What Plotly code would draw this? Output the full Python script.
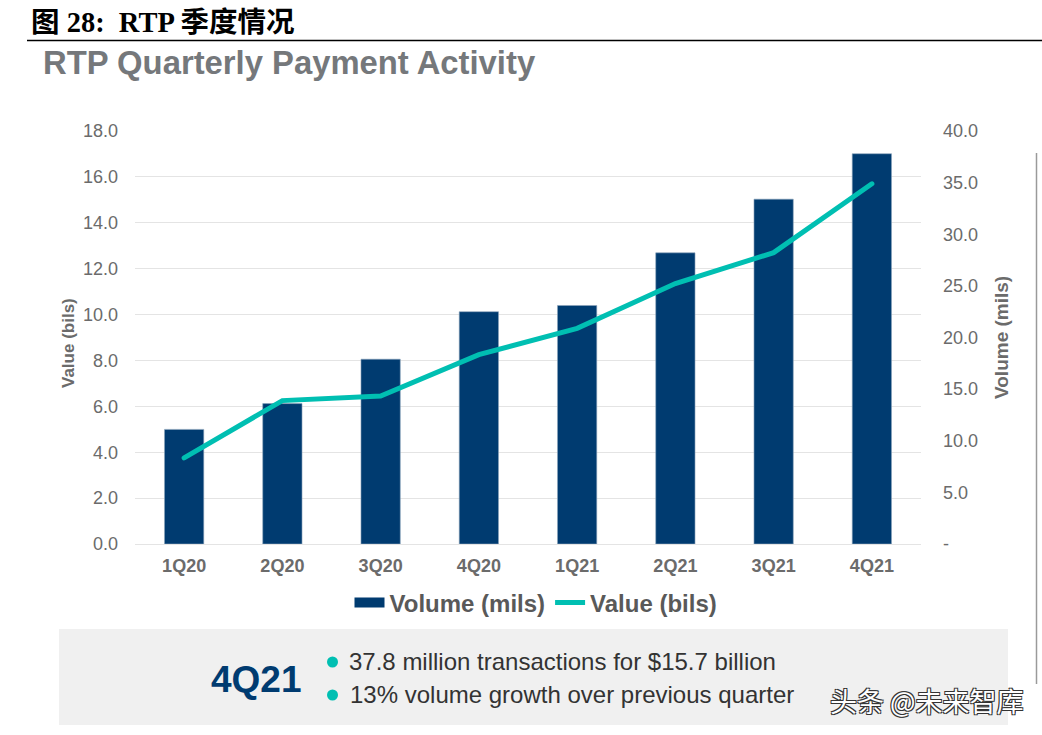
import plotly.graph_objects as go

quarters = ["1Q20", "2Q20", "3Q20", "4Q20", "1Q21", "2Q21", "3Q21", "4Q21"]
volume_mils = [11.1, 13.6, 17.9, 22.5, 23.1, 28.2, 33.4, 37.8]
value_bils = [3.75, 6.25, 6.45, 8.25, 9.4, 11.35, 12.7, 15.7]
left_ticks = [0, 2, 4, 6, 8, 10, 12, 14, 16, 18]
left_labels = ["0.0", "2.0", "4.0", "6.0", "8.0", "10.0", "12.0", "14.0", "16.0", "18.0"]
right_ticks = [0, 5, 10, 15, 20, 25, 30, 35, 40]
right_labels = ["-", "5.0", "10.0", "15.0", "20.0", "25.0", "30.0", "35.0", "40.0"]

W, H = 1042, 735
NAVY, TEAL, GREY = "#003B70", "#00BFB2", "#6B6B6B"
AR = "Liberation Sans, Arial, sans-serif"


def px(x):
    return x / W


def py(y):
    return 1 - y / H


fig = go.Figure()
fig.add_bar(x=quarters, y=volume_mils, name="Volume (mils)", marker_color=NAVY,
            marker_line=dict(color="#8FA6BC", width=0.6), yaxis="y", showlegend=False)
fig.add_scatter(x=[None], y=[None], name="<b>Volume (mils)</b>", mode="lines",
                line=dict(color=NAVY, width=12), yaxis="y")
fig.add_scatter(x=quarters, y=value_bils, name="<b>Value (bils)</b>", mode="lines",
                line=dict(color=TEAL, width=5), yaxis="y2")


def label(text, x, y, size, color, bold=False, family=AR, anchor="left", **kw):
    body = f"<b>{text}</b>" if bold else text
    fig.add_annotation(text=body, x=px(x), y=py(y), xref="paper", yref="paper",
                       xanchor=anchor, yanchor="middle", showarrow=False,
                       font=dict(size=size, color=color, family=family), **kw)


label("图 28:  RTP 季度情况", 29, 23, 28.5, "#000000", True,
      "Liberation Serif, Noto Sans CJK SC, serif")
label("RTP Quarterly Payment Activity", 41, 62, 32.8, "#75787B", True)
label("4Q21", 209, 679, 37, NAVY, True)
label("37.8 million transactions for $15.7 billion", 347, 661.5, 24, "#333333")
label("13% volume growth over previous quarter", 347.5, 694.5, 24, "#333333")
label("Value (bils)", 68, 343, 17, GREY, True, anchor="center", textangle=-90)
label("Volume (mils)", 1001, 338, 19, GREY, True, anchor="center", textangle=-90)
fig.add_annotation(text="头条 @未来智库", x=px(828), y=py(700), xref="paper", yref="paper",
                   xanchor="left", yanchor="middle", showarrow=False,
                   font=dict(size=27, color="#FFFFFF", family="Noto Sans CJK SC, sans-serif",
                             shadow="-1px -1px 0 #333, 1px -1px 0 #333, -1px 1px 0 #333, 1px 1px 0 #333"))

shapes = [
    dict(type="rect", xref="paper", yref="paper", x0=px(59), x1=px(1008), y0=py(629), y1=py(725),
         fillcolor="#F0F0F0", line_width=0, layer="below"),
    dict(type="line", xref="paper", yref="paper", x0=px(27), x1=1, y0=py(40.5), y1=py(40.5),
         line=dict(color="#000000", width=1.3)),
    dict(type="line", xref="paper", yref="paper", x0=px(1036.5), x1=px(1036.5), y0=py(153), y1=py(684),
         line=dict(color="#9A9A9A", width=1.5)),
]
for cy in (662, 695):
    shapes.append(dict(type="circle", xref="paper", yref="paper", fillcolor=TEAL, line_width=0,
                       x0=px(327), x1=px(338), y0=py(cy + 5.5), y1=py(cy - 5.5)))

fig.update_layout(
    width=W, height=H, autosize=False,
    margin=dict(l=0, r=0, t=0, b=0), paper_bgcolor="white", plot_bgcolor="white",
    bargap=0.6, shapes=shapes,
    xaxis=dict(domain=[px(135), px(921)], tickfont=dict(size=18, color=GREY, family=AR),
               tickprefix="<b>", ticksuffix="</b>", automargin=False,
               showgrid=False, showline=False, ticks="", ticklabelstandoff=9),
    yaxis=dict(side="right", range=[0, 40], tickvals=right_ticks, ticktext=right_labels,
               domain=[py(544), py(131)], showgrid=False, zeroline=False, ticks="", automargin=False,
               tickfont=dict(size=18, color=GREY, family=AR), ticklabelstandoff=21),
    yaxis2=dict(side="left", overlaying="y", range=[0, 18], tickvals=left_ticks, ticktext=left_labels,
                showgrid=True, gridcolor="#E4E4E4", gridwidth=1.3, zeroline=True, automargin=False,
                zerolinecolor="#E4E4E4", zerolinewidth=1.3,
                ticks="", tickfont=dict(size=18, color=GREY, family=AR), ticklabelstandoff=16),
    legend=dict(orientation="h", x=px(536), xanchor="center", y=py(603), yanchor="middle",
                font=dict(size=24, color="#595959", family=AR), itemwidth=30,
                bgcolor="rgba(0,0,0,0)", traceorder="normal"),
)

fig.write_html(
    "out.html",
    config={"displayModeBar": False},
    post_script="document.body.style.margin='0';"
                "document.querySelectorAll('.scatterlayer .js-line').forEach(function(p){p.style.strokeLinecap='round';});",
)
